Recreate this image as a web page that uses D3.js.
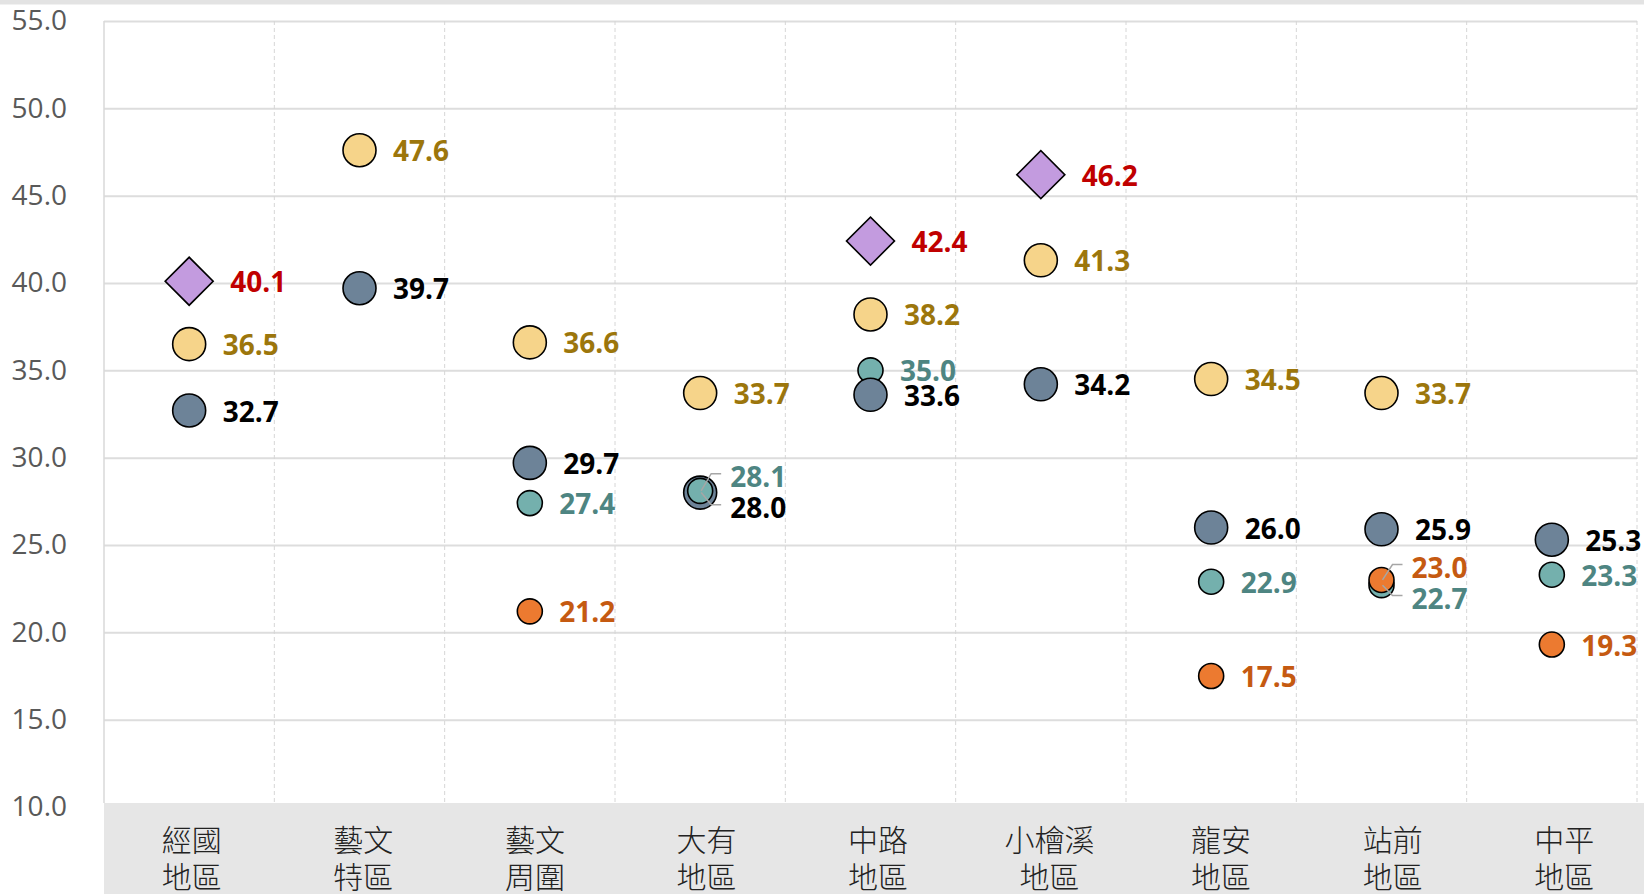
<!DOCTYPE html>
<html>
<head>
<meta charset="utf-8">
<script src="https://cdn.jsdelivr.net/npm/d3@7"></script>
<style>
  body { margin: 0; background: #fff; }
  svg { display: block; }
</style>
</head>
<body>
<div id="chart"></div>
<script>
// categories (tick labels, two lines each)
const categories = ["經國\n地區", "藝文\n特區", "藝文\n周圍", "大有\n地區", "中路\n地區",
                    "小檜溪\n地區", "龍安\n地區", "站前\n地區", "中平\n地區"];

// series values, null = no point
const purpleVals = [40.1, null, null, null, 42.4, 46.2, null, null, null];
const yellowVals = [36.5, 47.6, 36.6, 33.7, 38.2, 41.3, 34.5, 33.7, null];
const slateVals  = [32.7, 39.7, 29.7, 28.0, 33.6, 34.2, 26.0, 25.9, 25.3];
const tealVals   = [null, null, 27.4, 28.1, 35.0, null, 22.9, 22.7, 23.3];
const orangeVals = [null, null, 21.2, null, null, null, 17.5, 23.0, 19.3];

const yTicks = [10, 15, 20, 25, 30, 35, 40, 45, 50, 55];

const W = 1644, H = 894;
const plotL = 104, plotR = 1637, plotT = 21, plotB = 807, bandTop = 803;

const series = [
    { key: "purple", values: purpleVals, shape: "diamond", r: 24, fill: "#c39bdf", label: "#c00000" },
    { key: "yellow", values: yellowVals, shape: "circle", r: 16.5, fill: "#f6d48a", label: "#9c760c" },
    { key: "slate",  values: slateVals,  shape: "circle", r: 16.5, fill: "#6d8398", label: "#000000" },
    { key: "teal",   values: tealVals,   shape: "circle", r: 12.5, fill: "#74b0ad", label: "#4e8582" },
    { key: "orange", values: orangeVals, shape: "circle", r: 12.5, fill: "#ec7a30", label: "#c55a11" }
];

const svg = d3.select("#chart")
              .append("svg")
              .attr("width", W)
              .attr("height", H);

const x = d3.scaleBand()
            .domain(categories)
            .range([plotL, plotR])
            .padding(0);

// category labels sit on a slightly wider band than the plot
const xLab = d3.scaleBand()
               .domain(categories)
               .range([plotL + 2, W + 6])
               .padding(0);

const y = d3.scaleLinear()
            .domain([10, 55])
            .range([plotB, plotT]);

// top strip
svg.append("rect")
   .attr("x", 0).attr("y", 0)
   .attr("width", W).attr("height", 4.5)
   .attr("fill", "#e3e3e3");

// Y axis + gridlines
const yAxis = svg.append("g")
                 .attr("transform", `translate(${plotL},0)`)
                 .call(d3.axisLeft(y)
                         .tickValues(yTicks)
                         .tickSize(-(plotR - plotL))
                         .tickPadding(37)
                         .tickFormat(d3.format(".1f")));
yAxis.select(".domain").remove();
yAxis.selectAll(".tick line")
     .attr("stroke", "#dddddd")
     .attr("stroke-width", 2);
yAxis.selectAll(".tick text")
     .attr("fill", "#595959")
     .style("font-family", "'Open Sans', sans-serif")
     .style("font-size", "28px");

// left border
svg.append("line")
   .attr("x1", plotL).attr("x2", plotL)
   .attr("y1", plotT).attr("y2", bandTop)
   .attr("stroke", "#d9d9d9")
   .attr("stroke-width", 1.5);

// dashed separators between categories
svg.selectAll(".sep")
   .data(categories)
   .join("line")
   .attr("class", "sep")
   .attr("x1", d => x(d) + x.bandwidth())
   .attr("x2", d => x(d) + x.bandwidth())
   .attr("y1", plotT)
   .attr("y2", bandTop)
   .attr("stroke", "#d6d6d6")
   .attr("stroke-width", 1)
   .attr("stroke-dasharray", "4,3");

// category band
svg.append("rect")
   .attr("x", plotL).attr("y", bandTop)
   .attr("width", W - plotL).attr("height", H - bandTop)
   .attr("fill", "#e6e6e6");

// X axis
const xAxis = svg.append("g")
                 .attr("transform", `translate(0,${bandTop})`)
                 .call(d3.axisBottom(xLab).tickSize(0));
xAxis.select(".domain").remove();
xAxis.selectAll(".tick text")
     .text(null)
     .attr("y", 0)
     .attr("dy", 0)
     .attr("fill", "#222")
     .style("font-family", "'Noto Sans CJK TC', sans-serif")
     .style("font-weight", "300")
     .style("font-size", "30px")
     .each(function(d) {
         const t = d3.select(this);
         d.split("\n").forEach((line, i) => {
             t.append("tspan")
              .attr("x", 0)
              .attr("y", 35 + i * 37)
              .attr("dominant-baseline", "central")
              .text(line);
         });
     });

// flatten points
const points = [];
series.forEach(s => {
    s.values.forEach((v, i) => {
        if (v == null) return;
        points.push({ s, cat: categories[i], value: v, cx: x(categories[i]) + x.bandwidth() / 2, cy: y(v) });
    });
});

// label positions: pairs that nearly coincide get spread apart with leader lines
points.forEach(p => {
    p.lx = p.cx + p.s.r + 17;
    p.ly = p.cy;
    p.leader = false;
});
d3.groups(points, d => d.cat).forEach(([cat, pts]) => {
    pts.forEach(a => pts.forEach(b => {
        if (a !== b && a.value > b.value && a.value - b.value < 0.5) {
            const mid = (a.cy + b.cy) / 2;
            a.ly = mid - 16; b.ly = mid + 15;
            a.lx = b.lx = a.cx + 30;
            a.leader = b.leader = true;
        }
    }));
});

// markers
const marks = svg.selectAll(".mark")
   .data(points)
   .join(enter => enter.append(d => document.createElementNS("http://www.w3.org/2000/svg", d.s.shape === "diamond" ? "path" : "circle")))
   .attr("class", "mark")
   .attr("fill", d => d.s.fill)
   .attr("stroke", "#000")
   .attr("stroke-width", 1.6);

marks.filter(d => d.s.shape === "circle")
     .attr("cx", d => d.cx)
     .attr("cy", d => d.cy)
     .attr("r", d => d.s.r);

marks.filter(d => d.s.shape === "diamond")
     .attr("d", d => d3.symbol(d3.symbolSquare, Math.pow(d.s.r * Math.SQRT2, 2))())
     .attr("transform", d => `translate(${d.cx},${d.cy}) rotate(45)`);

// in 中路 the slate point sits on top of the teal one
marks.filter(d => d.s.key === "slate" && d.cat === categories[4]).raise();

// leader lines
svg.selectAll(".leader")
   .data(points.filter(p => p.leader))
   .join("polyline")
   .attr("class", "leader")
   .attr("fill", "none")
   .attr("stroke", "#a6a6a6")
   .attr("stroke-width", 1.5)
   .attr("points", d => `${d.cx + 21},${d.ly - 2} ${d.cx + 11},${d.ly - 2} ${d.cx + 1},${d.cy}`);

// value labels
svg.selectAll(".vlabel")
   .data(points)
   .join("text")
   .attr("class", "vlabel")
   .attr("x", d => d.lx)
   .attr("y", d => d.ly)
   .attr("dominant-baseline", "central")
   .attr("fill", d => d.s.label)
   .style("font-family", "'Open Sans', sans-serif")
   .style("font-weight", "bold")
   .style("font-size", "28px")
   .text(d => d3.format(".1f")(d.value));
</script>
</body>
</html>
